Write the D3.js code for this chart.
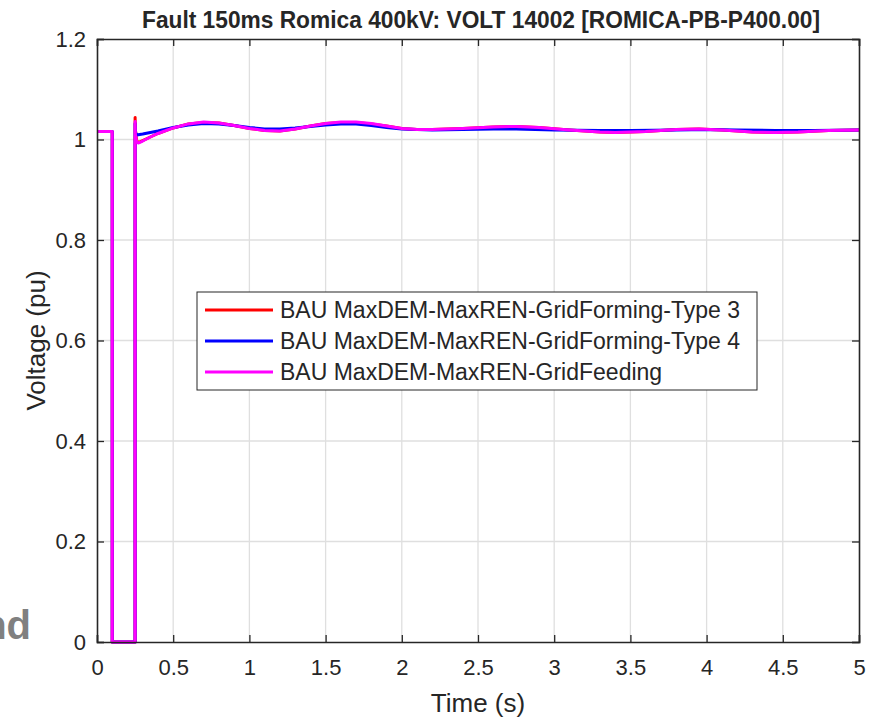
<!DOCTYPE html>
<html>
<head>
<meta charset="utf-8">
<script src="https://cdn.jsdelivr.net/npm/d3@7"></script>
<style>
  body { margin: 0; background: #fff; }
  svg text { font-family: "Liberation Sans", Arial, sans-serif; fill: #262626; }
</style>
</head>
<body>
<svg id="chart" width="881" height="718"></svg>
<script>
// values (time in s, voltage in pu)
const seriesNames = [
  "BAU MaxDEM-MaxREN-GridForming-Type 3",
  "BAU MaxDEM-MaxREN-GridForming-Type 4",
  "BAU MaxDEM-MaxREN-GridFeeding"
];
const seriesColors = ["#ff0000", "#0000ff", "#ff00ff"];

const timeType3 = [0, 0.1, 0.1, 0.25, 0.25, 0.252, 0.26, 0.27, 0.3, 0.35, 0.4, 0.5, 0.6, 0.7, 0.8, 0.9, 1.0, 1.1, 1.2, 1.3, 1.4, 1.5, 1.6, 1.7, 1.8, 1.9, 2.0, 2.1, 2.2, 2.4, 2.6, 2.75, 2.9, 3.1, 3.3, 3.4, 3.6, 3.8, 3.95, 4.1, 4.3, 4.45, 4.6, 4.8, 5.0];
const voltType3 = [1.016, 1.016, 0, 0, 1.044, 1.02, 0.998, 0.994, 0.998, 1.005, 1.012, 1.023, 1.031, 1.034, 1.033, 1.028, 1.022, 1.018, 1.017, 1.021, 1.027, 1.032, 1.034, 1.034, 1.031, 1.027, 1.022, 1.02, 1.02, 1.022, 1.025, 1.026, 1.024, 1.019, 1.015, 1.014, 1.016, 1.02, 1.021, 1.019, 1.015, 1.014, 1.015, 1.018, 1.019];

const timeType4 = [0, 0.1, 0.1, 0.25, 0.25, 0.252, 0.26, 0.3, 0.35, 0.4, 0.5, 0.6, 0.7, 0.8, 0.9, 1.0, 1.1, 1.2, 1.3, 1.4, 1.5, 1.6, 1.7, 1.8, 1.9, 2.0, 2.2, 2.4, 2.6, 2.75, 3.0, 3.3, 3.5, 3.8, 4.0, 4.2, 4.45, 4.7, 5.0];
const voltType4 = [1.016, 1.016, 0, 0, 1.032, 1.015, 1.009, 1.011, 1.014, 1.017, 1.024, 1.029, 1.032, 1.031, 1.028, 1.024, 1.021, 1.021, 1.023, 1.026, 1.029, 1.031, 1.031, 1.028, 1.024, 1.021, 1.019, 1.02, 1.021, 1.021, 1.019, 1.018, 1.018, 1.019, 1.02, 1.019, 1.018, 1.018, 1.019];

const timeFeeding = [0, 0.1, 0.1, 0.25, 0.25, 0.252, 0.26, 0.27, 0.3, 0.35, 0.4, 0.5, 0.6, 0.7, 0.8, 0.9, 1.0, 1.1, 1.2, 1.3, 1.4, 1.5, 1.6, 1.7, 1.8, 1.9, 2.0, 2.1, 2.2, 2.4, 2.6, 2.75, 2.9, 3.1, 3.3, 3.4, 3.6, 3.8, 3.95, 4.1, 4.3, 4.45, 4.6, 4.8, 5.0];
const voltFeeding = [1.016, 1.016, 0, 0, 1.036, 1.01, 0.996, 0.993, 0.997, 1.005, 1.012, 1.023, 1.031, 1.035, 1.033, 1.028, 1.022, 1.018, 1.017, 1.021, 1.027, 1.032, 1.035, 1.035, 1.032, 1.027, 1.022, 1.02, 1.02, 1.022, 1.025, 1.026, 1.024, 1.019, 1.015, 1.014, 1.016, 1.02, 1.021, 1.019, 1.015, 1.014, 1.015, 1.018, 1.019];

const xTicks = [0, 0.5, 1, 1.5, 2, 2.5, 3, 3.5, 4, 4.5, 5];
const yTicks = [0, 0.2, 0.4, 0.6, 0.8, 1, 1.2];

const series = [
  {name: seriesNames[0], color: seriesColors[0], pts: d3.zip(timeType3, voltType3)},
  {name: seriesNames[1], color: seriesColors[1], pts: d3.zip(timeType4, voltType4)},
  {name: seriesNames[2], color: seriesColors[2], pts: d3.zip(timeFeeding, voltFeeding)}
];

const svg = d3.select("#chart");
const m = {left: 97, right: 859, top: 39, bottom: 642};

const x = d3.scaleLinear().domain([0, 5]).range([m.left, m.right]);
const y = d3.scaleLinear().domain([0, 1.2]).range([m.bottom, m.top]);

// leftover text from the page behind, cut at the left edge as in the reference
svg.append("text")
  .attr("x", 31).attr("y", 639)
  .attr("text-anchor", "end")
  .style("font-size", "40px").style("font-weight", "bold")
  .style("fill", "#808080")
  .text("nd");

// grid
const grid = svg.append("g");
grid.selectAll(".gx").data(xTicks.slice(1, -1)).join("line")
  .attr("x1", d => x(d)).attr("x2", d => x(d))
  .attr("y1", m.top).attr("y2", m.bottom)
  .attr("stroke", "#dfdfdf").attr("stroke-width", 1.3);
grid.selectAll(".gy").data(yTicks.slice(1, -1)).join("line")
  .attr("x1", m.left).attr("x2", m.right)
  .attr("y1", d => y(d)).attr("y2", d => y(d))
  .attr("stroke", "#dfdfdf").attr("stroke-width", 1.3);

// lines
const line = d3.line().x(d => x(d[0])).y(d => y(d[1])).curve(d3.curveLinear);
svg.append("g").selectAll("path").data(series).join("path")
  .attr("d", d => line(d.pts))
  .attr("fill", "none")
  .attr("stroke", d => d.color)
  .attr("stroke-width", 3)
  .attr("stroke-linejoin", "round");

// axes, ticks inward on all four sides
const tl = 7;
const axisB = d3.axisBottom(x).tickValues(xTicks).tickSize(-tl).tickPadding(17).tickFormat(d3.format("~g"));
const axisT = d3.axisTop(x).tickValues(xTicks).tickSize(-tl).tickFormat("");
const axisL = d3.axisLeft(y).tickValues(yTicks).tickSize(-tl).tickPadding(11).tickFormat(d3.format("~g"));
const axisR = d3.axisRight(y).tickValues(yTicks).tickSize(-tl).tickFormat("");

function styleAxis(g) {
  g.select(".domain").attr("stroke", "#262626").attr("stroke-width", 1.6);
  g.selectAll(".tick line").attr("stroke", "#262626").attr("stroke-width", 1.3);
  g.selectAll(".tick text").style("font-size", "22px").attr("fill", "#262626");
}
svg.append("g").attr("transform", `translate(0,${m.bottom})`).call(axisB).call(styleAxis);
svg.append("g").attr("transform", `translate(0,${m.top})`).call(axisT).call(styleAxis);
svg.append("g").attr("transform", `translate(${m.left},0)`).call(axisL).call(styleAxis);
svg.append("g").attr("transform", `translate(${m.right},0)`).call(axisR).call(styleAxis);

// title and labels
svg.append("text")
  .attr("x", 481).attr("y", 28)
  .attr("text-anchor", "middle")
  .attr("textLength", 678).attr("lengthAdjust", "spacingAndGlyphs")
  .style("font-size", "23px").style("font-weight", "bold")
  .text("Fault 150ms Romica 400kV: VOLT 14002 [ROMICA-PB-P400.00]");

svg.append("text")
  .attr("x", (m.left + m.right) / 2).attr("y", 712)
  .attr("text-anchor", "middle")
  .style("font-size", "26px")
  .text("Time (s)");

svg.append("text")
  .attr("transform", `translate(45,${(m.top + m.bottom) / 2}) rotate(-90)`)
  .attr("text-anchor", "middle")
  .style("font-size", "26px")
  .text("Voltage (pu)");

// legend
const lg = svg.append("g").attr("transform", "translate(197,292)");
lg.append("rect").attr("width", 560).attr("height", 98)
  .attr("fill", "#fff").attr("stroke", "#262626").attr("stroke-width", 1);
const rows = lg.selectAll(".row").data(series).join("g")
  .attr("transform", (d, i) => `translate(0,${18 + i * 31})`);
rows.append("line").attr("x1", 8).attr("x2", 76)
  .attr("stroke", d => d.color).attr("stroke-width", 3);
rows.append("text").attr("x", 83).attr("dy", "0.35em")
  .style("font-size", "23px").text(d => d.name);
</script>
</body>
</html>
